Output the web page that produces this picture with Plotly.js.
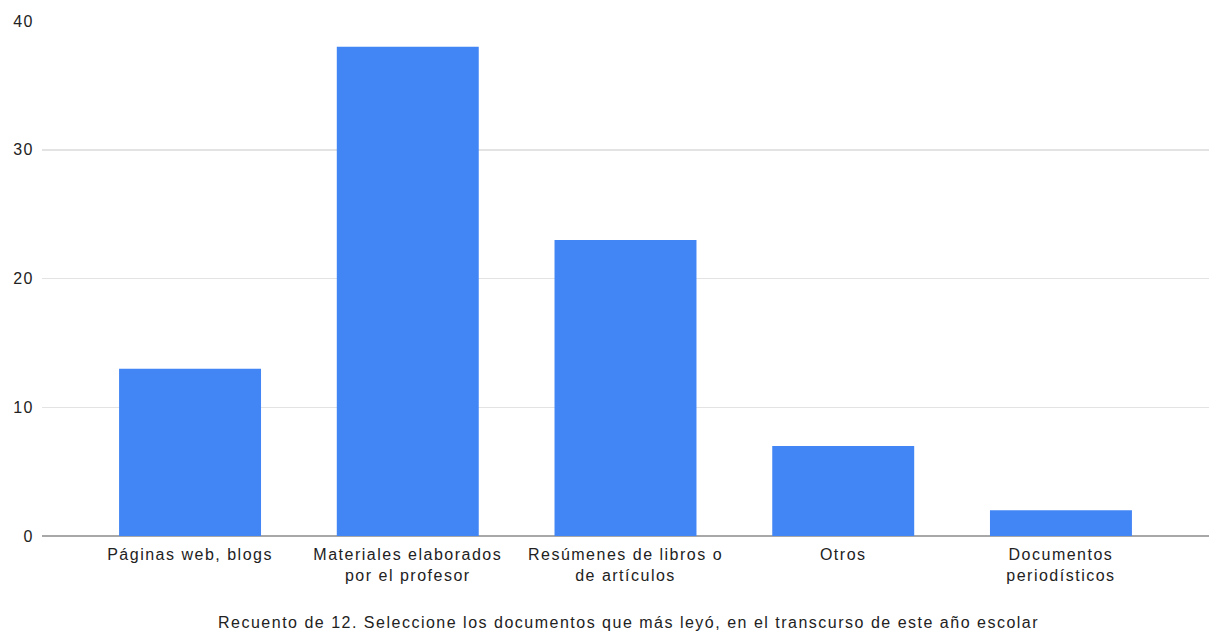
<!DOCTYPE html>
<html><head><meta charset="utf-8">
<script src="https://cdn.plot.ly/plotly-3.0.1.min.js"></script>
<style>html,body{margin:0;padding:0;background:#fff}#chart{width:1219px;height:634px}
#chart svg text{letter-spacing:1.5px}</style>
</head><body><div id="chart"></div>
<script>
const categories = ["Páginas web, blogs", "Materiales elaborados<br>por el profesor", "Resúmenes de libros o<br>de artículos", "Otros", "Documentos<br>periodísticos"];
const values = [13, 38, 23, 7, 2];
const yTicks = [0, 10, 20, 30, 40];
const xTitle = "Recuento de 12. Seleccione los documentos que más leyó, en el transcurso de este año escolar";

const idx = categories.map((_, i) => i);
Plotly.newPlot('chart', [{
  type: 'bar', x: idx, y: values,
  marker: {color: '#4285F4'}, hoverinfo: 'none'
}], {
  width: 1219, height: 634,
  margin: {l: 42, r: 10, t: 21, b: 98},
  paper_bgcolor: '#fff', plot_bgcolor: '#fff',
  font: {family: 'Liberation Sans, Arial, sans-serif', size: 16, color: '#222'},
  bargap: 0.348,
  showlegend: false,
  xaxis: {
    range: [-0.68, 4.68], tickvals: idx, ticktext: categories,
    showgrid: false, zeroline: false, showline: false, ticks: '',
    tickfont: {size: 16, color: '#222'}, ticklabelstandoff: 7
  },
  yaxis: {
    range: [0, 40], tickvals: yTicks, showgrid: true, gridcolor: '#e3e3e3', gridwidth: 1.5,
    zeroline: true, zerolinecolor: '#a8a8a8', zerolinewidth: 2,
    ticks: '', tickfont: {size: 16, color: '#222'}, ticklabelstandoff: 7
  },
  annotations: [{
    text: xTitle, xref: 'paper', yref: 'paper', x: 0.503, y: 0, yshift: -86,
    showarrow: false, xanchor: 'center', yanchor: 'middle', font: {size: 16, color: '#222'}
  }]
}, {displayModeBar: false, staticPlot: true});
</script></body></html>
